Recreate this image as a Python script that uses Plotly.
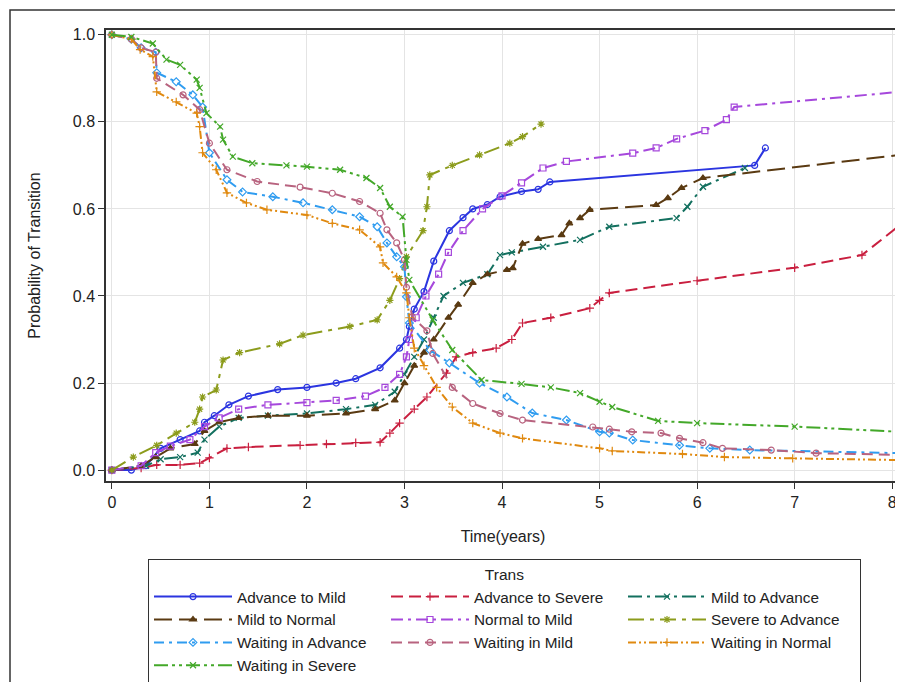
import plotly.graph_objects as go

# ---------------- data ----------------
adv_mild_x = [0, 0.2, 0.35, 0.5, 0.7, 0.9, 0.95, 1.05, 1.2, 1.4, 1.7, 2.0, 2.3, 2.5, 2.75, 2.95, 3.02, 3.05, 3.1, 3.2, 3.3, 3.46, 3.6, 3.7, 3.85, 3.98, 4.2, 4.37, 4.49, 6.59, 6.70]
adv_mild_y = [0, 0.0, 0.01, 0.05, 0.07, 0.09, 0.11, 0.125, 0.15, 0.17, 0.185, 0.19, 0.2, 0.21, 0.235, 0.28, 0.30, 0.33, 0.37, 0.41, 0.48, 0.55, 0.58, 0.60, 0.61, 0.628, 0.64, 0.645, 0.662, 0.70, 0.74]

adv_sev_x = [0, 0.3, 0.46, 0.7, 0.9, 1.0, 1.18, 1.4, 1.93, 2.2, 2.5, 2.75, 2.85, 2.95, 3.1, 3.23, 3.43, 3.53, 3.7, 3.94, 4.1, 4.21, 4.5, 4.9, 5.0, 5.1, 6.0, 7.0, 7.69, 8.08]
adv_sev_y = [0, 0.005, 0.012, 0.012, 0.016, 0.028, 0.05, 0.053, 0.057, 0.06, 0.063, 0.064, 0.085, 0.108, 0.14, 0.168, 0.223, 0.26, 0.27, 0.28, 0.3, 0.338, 0.35, 0.372, 0.39, 0.407, 0.435, 0.465, 0.494, 0.563]

mild_adv_x = [0, 0.35, 0.5, 0.7, 0.88, 0.95, 1.1, 1.3, 1.6, 2.0, 2.4, 2.7, 2.9, 3.0, 3.1, 3.2, 3.3, 3.4, 3.6, 3.85, 3.98, 4.1, 4.42, 4.8, 5.1, 5.79, 5.9, 6.06, 6.49]
mild_adv_y = [0, 0.01, 0.025, 0.03, 0.04, 0.07, 0.1, 0.12, 0.125, 0.13, 0.14, 0.15, 0.18, 0.22, 0.26, 0.3, 0.35, 0.4, 0.43, 0.45, 0.494, 0.50, 0.513, 0.529, 0.559, 0.579, 0.605, 0.651, 0.694]

mild_norm_x = [0, 0.3, 0.45, 0.6, 0.85, 0.95, 1.1, 1.3, 1.6, 2.0, 2.4, 2.7, 2.9, 3.0, 3.1, 3.2, 3.3, 3.45, 3.55, 3.7, 3.85, 4.05, 4.11, 4.21, 4.37, 4.61, 4.69, 4.8, 4.9, 5.58, 5.7, 5.84, 6.06, 8.08]
mild_norm_y = [0, 0.01, 0.03, 0.05, 0.06, 0.09, 0.11, 0.12, 0.125, 0.125, 0.13, 0.14, 0.16, 0.2, 0.24, 0.27, 0.30, 0.35, 0.38, 0.43, 0.45, 0.46, 0.464, 0.52, 0.531, 0.54, 0.567, 0.579, 0.598, 0.609, 0.625, 0.648, 0.671, 0.724]

norm_mild_x = [0, 0.3, 0.45, 0.6, 0.8, 0.95, 1.1, 1.3, 1.6, 2.0, 2.3, 2.6, 2.8, 2.95, 3.02, 3.05, 3.12, 3.22, 3.35, 3.45, 3.6, 3.8, 4.0, 4.2, 4.42, 4.66, 5.34, 5.58, 5.79, 6.08, 6.30, 6.38, 8.08]
norm_mild_y = [0, 0.01, 0.04, 0.055, 0.07, 0.1, 0.12, 0.14, 0.15, 0.155, 0.16, 0.17, 0.19, 0.22, 0.26, 0.30, 0.35, 0.40, 0.45, 0.50, 0.55, 0.60, 0.63, 0.66, 0.694, 0.709, 0.728, 0.74, 0.761, 0.78, 0.805, 0.834, 0.869]

sev_adv_x = [0, 0.22, 0.46, 0.66, 0.85, 0.90, 0.93, 1.07, 1.14, 1.31, 1.72, 1.96, 2.44, 2.72, 2.85, 2.95, 3.02, 3.19, 3.23, 3.26, 3.49, 3.77, 4.08, 4.21, 4.40]
sev_adv_y = [0, 0.03, 0.057, 0.085, 0.11, 0.14, 0.168, 0.184, 0.253, 0.27, 0.29, 0.31, 0.33, 0.345, 0.39, 0.44, 0.49, 0.55, 0.605, 0.678, 0.70, 0.724, 0.751, 0.766, 0.795]

wait_adv_x = [0, 0.2, 0.3, 0.45, 0.46, 0.66, 0.83, 0.93, 1.0, 1.18, 1.34, 1.65, 1.96, 2.26, 2.54, 2.72, 2.82, 2.92, 3.0, 3.02, 3.05, 3.26, 3.46, 3.77, 4.05, 4.31, 4.66, 5.0, 5.1, 5.34, 5.82, 6.13, 6.54, 8.08]
wait_adv_y = [1.0, 0.99, 0.97, 0.96, 0.913, 0.892, 0.862, 0.834, 0.729, 0.667, 0.639, 0.628, 0.614, 0.598, 0.582, 0.559, 0.522, 0.49, 0.467, 0.398, 0.338, 0.276, 0.246, 0.20, 0.168, 0.131, 0.115, 0.088, 0.085, 0.069, 0.057, 0.05, 0.046, 0.039]

wait_mild_x = [0, 0.2, 0.3, 0.45, 0.46, 0.73, 0.90, 1.0, 1.18, 1.49, 1.93, 2.26, 2.54, 2.75, 2.82, 2.92, 3.0, 3.02, 3.08, 3.23, 3.29, 3.49, 3.70, 3.98, 4.21, 4.93, 5.1, 5.33, 5.63, 5.82, 6.06, 6.26, 6.76, 7.22, 8.08]
wait_mild_y = [1.0, 0.99, 0.97, 0.96, 0.90, 0.862, 0.828, 0.751, 0.69, 0.663, 0.65, 0.636, 0.617, 0.59, 0.552, 0.522, 0.483, 0.42, 0.352, 0.32, 0.268, 0.19, 0.153, 0.13, 0.115, 0.099, 0.094, 0.088, 0.085, 0.073, 0.063, 0.05, 0.046, 0.039, 0.035]

wait_norm_x = [0, 0.2, 0.29, 0.42, 0.46, 0.66, 0.87, 0.90, 0.93, 1.07, 1.18, 1.38, 1.59, 2.0, 2.26, 2.54, 2.75, 2.78, 2.92, 3.02, 3.05, 3.1, 3.2, 3.33, 3.49, 3.70, 3.98, 4.21, 5.0, 5.13, 5.85, 6.28, 6.98, 8.08]
wait_norm_y = [1.0, 0.99, 0.966, 0.95, 0.869, 0.846, 0.82, 0.789, 0.729, 0.69, 0.637, 0.614, 0.598, 0.586, 0.567, 0.552, 0.513, 0.476, 0.444, 0.407, 0.35, 0.28, 0.24, 0.19, 0.145, 0.108, 0.085, 0.073, 0.05, 0.044, 0.037, 0.03, 0.027, 0.023]

wait_sev_x = [0, 0.2, 0.42, 0.56, 0.70, 0.87, 0.90, 0.97, 1.11, 1.14, 1.24, 1.44, 1.79, 2.0, 2.34, 2.61, 2.75, 2.85, 2.98, 3.02, 3.05, 3.29, 3.49, 3.79, 4.2, 4.5, 4.8, 5.0, 5.13, 5.6, 6.0, 7.0, 8.08]
wait_sev_y = [1.0, 0.995, 0.98, 0.943, 0.931, 0.897, 0.878, 0.82, 0.789, 0.759, 0.72, 0.705, 0.70, 0.697, 0.69, 0.671, 0.648, 0.605, 0.582, 0.483, 0.437, 0.345, 0.276, 0.207, 0.198, 0.19, 0.177, 0.157, 0.145, 0.113, 0.108, 0.10, 0.088]

x_ticks = [0, 1, 2, 3, 4, 5, 6, 7, 8]
y_ticks = [0, 0.2, 0.4, 0.6, 0.8, 1.0]
y_ticktext = ["0.0", "0.2", "0.4", "0.6", "0.8", "1.0"]

series = [
    ("Advance to Mild", adv_mild_x, adv_mild_y, "#2b35e0", "solid", "circle-open"),
    ("Advance to Severe", adv_sev_x, adv_sev_y, "#c91f3f", "12px,6px", "cross-thin-open"),
    ("Mild to Advance", mild_adv_x, mild_adv_y, "#13705f", "14px,5px,3px,5px", "x-thin-open"),
    ("Mild to Normal", mild_norm_x, mild_norm_y, "#5a3a12", "18px,7px", "triangle-up"),
    ("Normal to Mild", norm_mild_x, norm_mild_y, "#a648dc", "12px,5px,3px,5px", "square-open"),
    ("Severe to Advance", sev_adv_x, sev_adv_y, "#8c9c1c", "16px,6px,4px,6px", "asterisk-open"),
    ("Waiting in Advance", wait_adv_x, wait_adv_y, "#2f9cf0", "10px,5px,3px,5px", "diamond-open"),
    ("Waiting in Mild", wait_mild_x, wait_mild_y, "#b8637f", "11px,6px", "circle-open"),
    ("Waiting in Normal", wait_norm_x, wait_norm_y, "#e0890f", "8px,3px,2px,3px,2px,3px", "cross-thin-open"),
    ("Waiting in Severe", wait_sev_x, wait_sev_y, "#43a829", "14px,4px,3px,4px,3px,4px", "x-thin-open"),
]

fig = go.Figure()
for name, xs, ys, color, dash, sym in series:
    fig.add_trace(go.Scatter(
        x=xs, y=ys, name=name, mode="lines+markers",
        line=dict(color=color, width=2, dash=dash),
        marker=dict(symbol=sym, size=6, color=color, line=dict(width=1.2, color=color)),
    ))

# the page body has an 8px margin, so the figure is 8px smaller and all offsets shift by 8
OFF = 8
W, H = 903 - OFF, 682 - OFF
L, T = 106 - OFF, 30 - OFF
R = W - (900 - OFF)
B = H - (481 - OFF)
pw, ph = W - L - R, H - T - B

fig.update_layout(
    width=W, height=H,
    margin=dict(l=L, r=R, t=T, b=B, autoexpand=False),
    paper_bgcolor="white", plot_bgcolor="white",
    font=dict(family="Arial, Liberation Sans, sans-serif", size=16, color="#222"),
    showlegend=True,
    legend=dict(
        orientation="h", xref="container", x=(148 - OFF) / W, xanchor="left",
        yref="container", y=1 - (559 - OFF) / H, yanchor="top",
        bordercolor="#333", borderwidth=1, bgcolor="white",
        title=dict(text="Trans", side="top center", font=dict(size=15.5)),
        font=dict(size=15.3), itemwidth=78, entrywidth=144, entrywidthmode="pixels",
        tracegroupgap=0,
    ),
    shapes=[dict(type="rect", xref="paper", yref="paper",
                 x0=(10 - 106) / pw, x1=(W + 6 - L) / pw,
                 y0=(T + ph - (H + 10)) / ph, y1=(T + ph - (10 - OFF)) / ph,
                 line=dict(color="#333", width=1.5), fillcolor="rgba(0,0,0,0)", layer="below")],
)

fig.update_xaxes(
    range=[-0.06, 8.08], tickmode="array", tickvals=x_ticks, automargin=False,
    ticks="outside", ticklen=6, tickcolor="#333",
    showline=True, linecolor="#333", linewidth=1.5, mirror=True,
    showgrid=True, gridcolor="#e4e4e4", zeroline=False,
    title=dict(text="Time(years)", font=dict(size=16), standoff=21),
    tickfont=dict(size=16),
)
fig.update_yaxes(
    range=[-0.025, 1.011], tickmode="array", tickvals=y_ticks, ticktext=y_ticktext,
    automargin=False,
    ticks="outside", ticklen=6, tickcolor="#333",
    showline=True, linecolor="#333", linewidth=1.5, mirror=True,
    showgrid=True, gridcolor="#e4e4e4", zeroline=False,
    title=dict(text="Probability of Transition", font=dict(size=16), standoff=28),
    tickfont=dict(size=16),
)

fig.write_html("out.html")
